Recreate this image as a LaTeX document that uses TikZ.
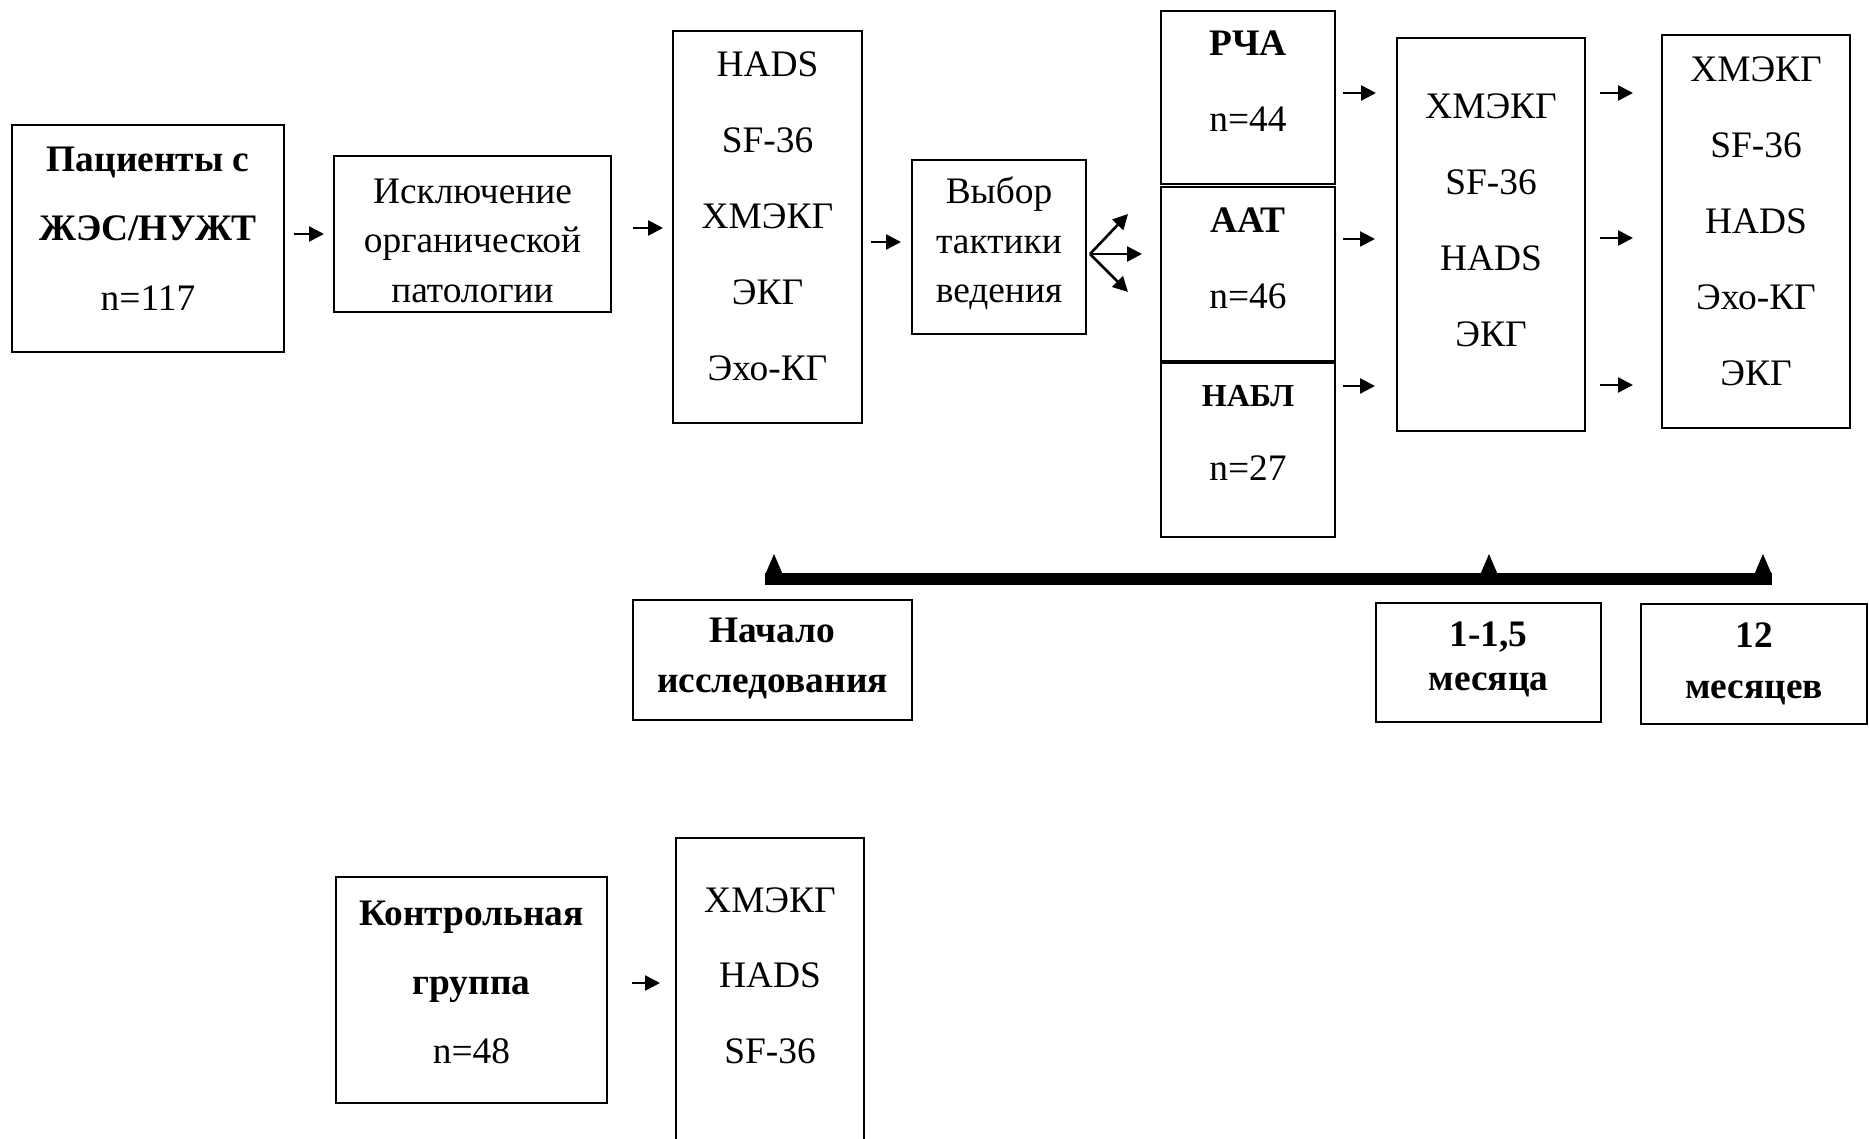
\documentclass[tikz,border=0pt]{standalone}
\usepackage{fontspec}
\setmainfont{Liberation Serif}
\usetikzlibrary{arrows.meta}
\begin{document}
\begin{tikzpicture}[x=0.5pt,y=-0.5pt,
 box/.style={draw,line width=1.2pt,inner sep=0pt,outer sep=0pt},
 txt/.style={align=center,inner sep=0pt,outer sep=0pt},
 arr/.style={line width=1.3pt,-{Triangle[length=7.5pt,width=7.5pt]}},
 tick/.style={fill=black}]
\useasboundingbox (0,0) rectangle (1869,1139);
\fill[white] (0,0) rectangle (1869,1139);

% boxes
\node[box,minimum width=136pt,minimum height=113.5pt] (B1) at (148,238.5) {};
\node[box,minimum width=138.5pt,minimum height=78pt] (B2) at (472.5,234) {};
\node[box,minimum width=94.5pt,minimum height=196pt] (B3) at (767.5,227) {};
\node[box,minimum width=87pt,minimum height=87pt] (B4) at (999,247) {};
\node[box,minimum width=87pt,minimum height=86.5pt] (B5) at (1248,97.5) {};
\node[box,minimum width=87pt,minimum height=87pt] (B6) at (1248,274) {};
\node[box,minimum width=87pt,minimum height=87pt] (B7) at (1248,450) {};
\node[box,minimum width=94pt,minimum height=196.5pt] (B8) at (1491,234.5) {};
\node[box,minimum width=94pt,minimum height=196.5pt] (B9) at (1756,231.5) {};
\node[box,minimum width=139.5pt,minimum height=60pt] (S0) at (772.5,660) {};
\node[box,minimum width=112.5pt,minimum height=59.5pt] (S1) at (1488.5,662.5) {};
\node[box,minimum width=113pt,minimum height=60pt] (S2) at (1754,664) {};
\node[box,minimum width=135.5pt,minimum height=113pt] (K) at (471.5,990) {};
\node[box,minimum width=94pt,minimum height=161pt] (R) at (770,999) {};

% texts
\node[txt,font=\fontsize{18.7}{34.75}\selectfont\bfseries] (T1) at (148,228.5) {Пациенты с\\ЖЭС/НУЖТ\\{\mdseries n=117}};
\node[txt,font=\fontsize{18.7}{24.75}\selectfont] (T2) at (472.5,240.5) {Исключение\\органической\\патологии};
\node[txt,font=\fontsize{18.7}{38}\selectfont] (T3) at (767.5,216) {HADS\\SF-36\\ХМЭКГ\\ЭКГ\\Эхо-КГ};
\node[txt,font=\fontsize{18.7}{24.75}\selectfont] (T4) at (999,243.5) {Выбор\\тактики\\ведения};
\node[txt,font=\fontsize{18.7}{18}\selectfont\bfseries,anchor=base] (T5a) at (1248,56) {РЧА};
\node[txt,font=\fontsize{18.7}{18}\selectfont,anchor=base] (T5b) at (1248,132) {n=44};
\node[txt,font=\fontsize{18.7}{18}\selectfont\bfseries,anchor=base] (T6a) at (1248,233) {ААТ};
\node[txt,font=\fontsize{18.7}{18}\selectfont,anchor=base] (T6b) at (1248,309) {n=46};
\node[txt,font=\fontsize{16}{16}\selectfont\bfseries,anchor=base] (T7a) at (1248,406) {НАБЛ};
\node[txt,font=\fontsize{18.7}{18}\selectfont,anchor=base] (T7b) at (1248,480) {n=27};
\node[txt,font=\fontsize{18.7}{38}\selectfont] (T8) at (1491,220) {ХМЭКГ\\SF-36\\HADS\\ЭКГ};
\node[txt,font=\fontsize{18.7}{38}\selectfont] (T9) at (1756,221) {ХМЭКГ\\SF-36\\HADS\\Эхо-КГ\\ЭКГ};
\node[txt,font=\fontsize{18.7}{25}\selectfont\bfseries] (TS0) at (772.5,659) {Начало\\исследования};
\node[txt,font=\fontsize{18.7}{22}\selectfont\bfseries] (TS1) at (1488.5,659) {1-1,5\\месяца};
\node[txt,font=\fontsize{18.7}{25.5}\selectfont\bfseries] (TS2) at (1754,663.5) {12\\месяцев};
\node[txt,font=\fontsize{18.7}{34.5}\selectfont\bfseries] (TK) at (471.5,982) {Контрольная\\группа\\{\mdseries n=48}};
\node[txt,font=\fontsize{18.7}{37.75}\selectfont] (TR) at (770,975.5) {ХМЭКГ\\HADS\\SF-36};

% arrows
\draw[arr] ([shift={(10,-4.5)}]B1.east) -- ([shift={(-10,0)}]B2.west);
\draw[arr] ([shift={(22,-6)}]B2.east) -- ([shift={(-10,1)}]B3.west);
\draw[arr] ([shift={(9,15)}]B3.east) -- ([shift={(-11,-5)}]B4.west);
\coordinate (fan) at ([shift={(4,7)}]B4.east);
\draw[arr] (fan) -- ([shift={(-33,-60)}]B6.west);
\draw[arr] (fan) -- ([shift={(-19,-20)}]B6.west);
\draw[arr] (fan) -- ([shift={(-33,18)}]B6.west);
\draw[arr] ([shift={(8,-4.5)}]B5.east) -- ([shift={(-21,-141.5)}]B8.west);
\draw[arr] ([shift={(8,-35)}]B6.east) -- ([shift={(-22,4.5)}]B8.west);
\draw[arr] ([shift={(8,-64)}]B7.east) -- ([shift={(-22,151.5)}]B8.west);
\draw[arr] ([shift={(15,-141.5)}]B8.east) -- ([shift={(-29,-138.5)}]B9.west);
\draw[arr] ([shift={(15,3.5)}]B8.east) -- ([shift={(-29,6.5)}]B9.west);
\draw[arr] ([shift={(15,150.5)}]B8.east) -- ([shift={(-29,153.5)}]B9.west);
\draw[arr] ([shift={(25,-7)}]K.east) -- ([shift={(-16,-16)}]R.west);

% timeline
\coordinate (tl1) at (765,579);
\coordinate (tl2) at (1772,579);
\draw[line width=6pt] (tl1) -- (tl2);
\fill[tick] (765,575) -- (774,554) -- (783,575) -- cycle;
\fill[tick] (1480,575) -- (1489,554) -- (1498,575) -- cycle;
\fill[tick] (1754,575) -- (1763,554) -- (1772,575) -- cycle;
\end{tikzpicture}
\end{document}
